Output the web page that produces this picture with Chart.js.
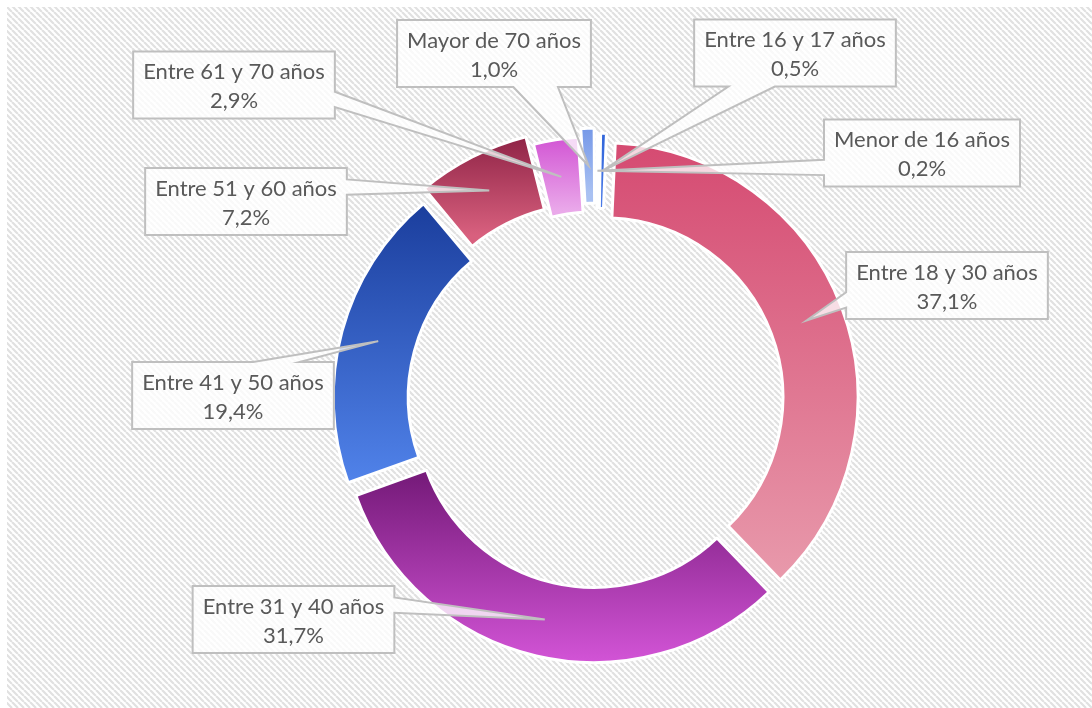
<!DOCTYPE html>
<html>
<head>
<meta charset="utf-8">
<script src="https://cdn.jsdelivr.net/npm/chart.js@4.4.0/dist/chart.umd.min.js"></script>
<style>
html,body{margin:0;padding:0;background:#fff;}
canvas{display:block;}
</style>
</head>
<body>
<canvas id="c" width="1092" height="708"></canvas>
<script>
// ---- data ----
const categories = ['Menor de 16 años','Entre 16 y 17 años','Entre 18 y 30 años','Entre 31 y 40 años','Entre 41 y 50 años','Entre 51 y 60 años','Entre 61 y 70 años','Mayor de 70 años'];
const shares = [0.2, 0.5, 37.1, 31.7, 19.4, 7.2, 2.9, 1.0];

// ---- styles ----
const colorTop = ['#1d48b8','#2f63d9','#d54a71','#781c7c','#1a3d9c','#861c3f','#d04ed2','#6e92e6'];
const colorBottom = ['#3a6ee0','#4a7ae6','#e899ab','#d757db','#5082e9','#d8607e','#eaa9ea','#a9c1f2'];
const explode = [30, 30, 33, 40, 42, 53, 25, 41];   // Chart.js arc "offset" per slice

// ---- layout of callout boxes (box centres, px) ----
const calloutCenters = [[922,153],[795,53],[947,285.5],[293.5,619.5],[233,395.5],[246,201.5],[234,85],[494,53.5]];

const FONT = '22px Lato, "Open Sans", sans-serif';
const fmtPct = v => v.toFixed(1).replace('.', ',') + '%';

// effective outward shift Chart.js applies to an arc with an offset
function arcShift(arc) {
  const t = (arc.options.offset || 0) / 4;
  const fix = 1 - Math.sin(Math.min(Math.PI, arc.circumference || (arc.endAngle - arc.startAngle)));
  return {t, g: t * fix};
}

const bgPlugin = {
  id: 'bg',
  beforeDraw(chart) {
    const ctx = chart.ctx;
    ctx.save();
    ctx.fillStyle = '#fff';
    ctx.fillRect(0, 0, chart.width, chart.height);
    const p = 6;
    const t = document.createElement('canvas');
    t.width = p; t.height = p;
    const tc = t.getContext('2d');
    tc.fillStyle = '#fff';
    tc.fillRect(0, 0, p, p);
    tc.strokeStyle = '#e1e1e1';
    tc.lineWidth = 2.2;
    tc.beginPath();
    for (const k of [-p, 0, p]) { tc.moveTo(k, 0); tc.lineTo(k + p, p); }
    tc.stroke();
    ctx.fillStyle = ctx.createPattern(t, 'repeat');
    ctx.fillRect(7, 7, chart.width - 7, chart.height - 7);
    ctx.restore();
  }
};

const gradPlugin = {
  id: 'grad',
  beforeDatasetsDraw(chart) {
    const meta = chart.getDatasetMeta(0);
    meta.data.forEach((arc, i) => {
      const {y, startAngle, endAngle, innerRadius, outerRadius} = arc;
      const {t, g} = arcShift(arc);
      const mid = (startAngle + endAngle) / 2;
      const oy = y + Math.sin(mid) * t;
      let ymin = Infinity, ymax = -Infinity;
      for (let s = 0; s <= 60; s++) {
        const a = startAngle + (endAngle - startAngle) * s / 60;
        for (const r of [innerRadius + g, outerRadius + g]) {
          const yy = oy + Math.sin(a) * r;
          ymin = Math.min(ymin, yy); ymax = Math.max(ymax, yy);
        }
      }
      if (ymax - ymin < 1) ymax = ymin + 1;
      const gr = chart.ctx.createLinearGradient(0, ymin, 0, ymax);
      gr.addColorStop(0, colorTop[i]);
      gr.addColorStop(1, colorBottom[i]);
      arc.options = Object.assign({}, arc.options, {backgroundColor: gr});
    });
  }
};

const sgn = v => (v < 0 ? -1 : 1);

const calloutPlugin = {
  id: 'callouts',
  afterDatasetsDraw(chart) {
    const ctx = chart.ctx;
    const meta = chart.getDatasetMeta(0);
    ctx.save();
    ctx.font = FONT;
    meta.data.forEach((arc, i) => {
      const mid = (arc.startAngle + arc.endAngle) / 2;
      const {t, g} = arcShift(arc);
      const rr = (arc.innerRadius + arc.outerRadius) / 2 + t + g;
      const tip = {x: arc.x + Math.cos(mid) * rr, y: arc.y + Math.sin(mid) * rr};
      const l1 = categories[i], l2 = fmtPct(shares[i]);
      const w = Math.max(ctx.measureText(l1).width, ctx.measureText(l2).width) + 20;
      const h = 67;
      const [cx, cy] = calloutCenters[i];
      const L = cx - w / 2, T = cy - h / 2, R = cx + w / 2, B = cy + h / 2;
      const nx = (tip.x - cx) / (w / 2), ny = (tip.y - cy) / (h / 2);
      let edge;
      if (Math.abs(nx) > Math.abs(ny)) edge = nx < 0 ? 'left' : 'right';
      else edge = ny < 0 ? 'top' : 'bottom';
      ctx.beginPath();
      ctx.moveTo(L, T);
      if (edge === 'top') {
        const c = cx + sgn(tip.x - cx) * 0.215 * w, hw = 0.115 * w;
        ctx.lineTo(c - hw, T); ctx.lineTo(tip.x, tip.y); ctx.lineTo(c + hw, T);
      }
      ctx.lineTo(R, T);
      if (edge === 'right') {
        const c = cy + sgn(tip.y - cy) * 0.215 * h, hw = 0.115 * h;
        ctx.lineTo(R, c - hw); ctx.lineTo(tip.x, tip.y); ctx.lineTo(R, c + hw);
      }
      ctx.lineTo(R, B);
      if (edge === 'bottom') {
        const c = cx + sgn(tip.x - cx) * 0.215 * w, hw = 0.115 * w;
        ctx.lineTo(c + hw, B); ctx.lineTo(tip.x, tip.y); ctx.lineTo(c - hw, B);
      }
      ctx.lineTo(L, B);
      if (edge === 'left') {
        const c = cy + sgn(tip.y - cy) * 0.215 * h, hw = 0.115 * h;
        ctx.lineTo(L, c + hw); ctx.lineTo(tip.x, tip.y); ctx.lineTo(L, c - hw);
      }
      ctx.closePath();
      ctx.fillStyle = 'rgba(255,255,255,0.78)';
      ctx.fill();
      ctx.strokeStyle = '#bfbfbf';
      ctx.lineWidth = 2;
      ctx.lineJoin = 'miter';
      ctx.stroke();
      ctx.fillStyle = '#595959';
      ctx.textAlign = 'center';
      ctx.textBaseline = 'alphabetic';
      ctx.fillText(l1, cx, cy - 6);
      ctx.fillText(l2, cx, cy + 23);
    });
    ctx.restore();
  }
};

new Chart(document.getElementById('c'), {
  type: 'doughnut',
  data: {
    labels: categories,
    datasets: [{
      data: shares,
      backgroundColor: colorTop,
      borderColor: '#ffffff',
      borderWidth: 3,
      offset: explode,
      radius: 252,
      cutout: '70.2%'
    }]
  },
  options: {
    responsive: false,
    animation: false,
    events: [],
    rotation: 0,
    radius: 252,
    cutout: '70.2%',
    layout: {padding: {left: 100, right: 0, top: 92, bottom: 0}},
    plugins: {legend: {display: false}, tooltip: {enabled: false}}
  },
  plugins: [bgPlugin, gradPlugin, calloutPlugin]
});
</script>
</body>
</html>
